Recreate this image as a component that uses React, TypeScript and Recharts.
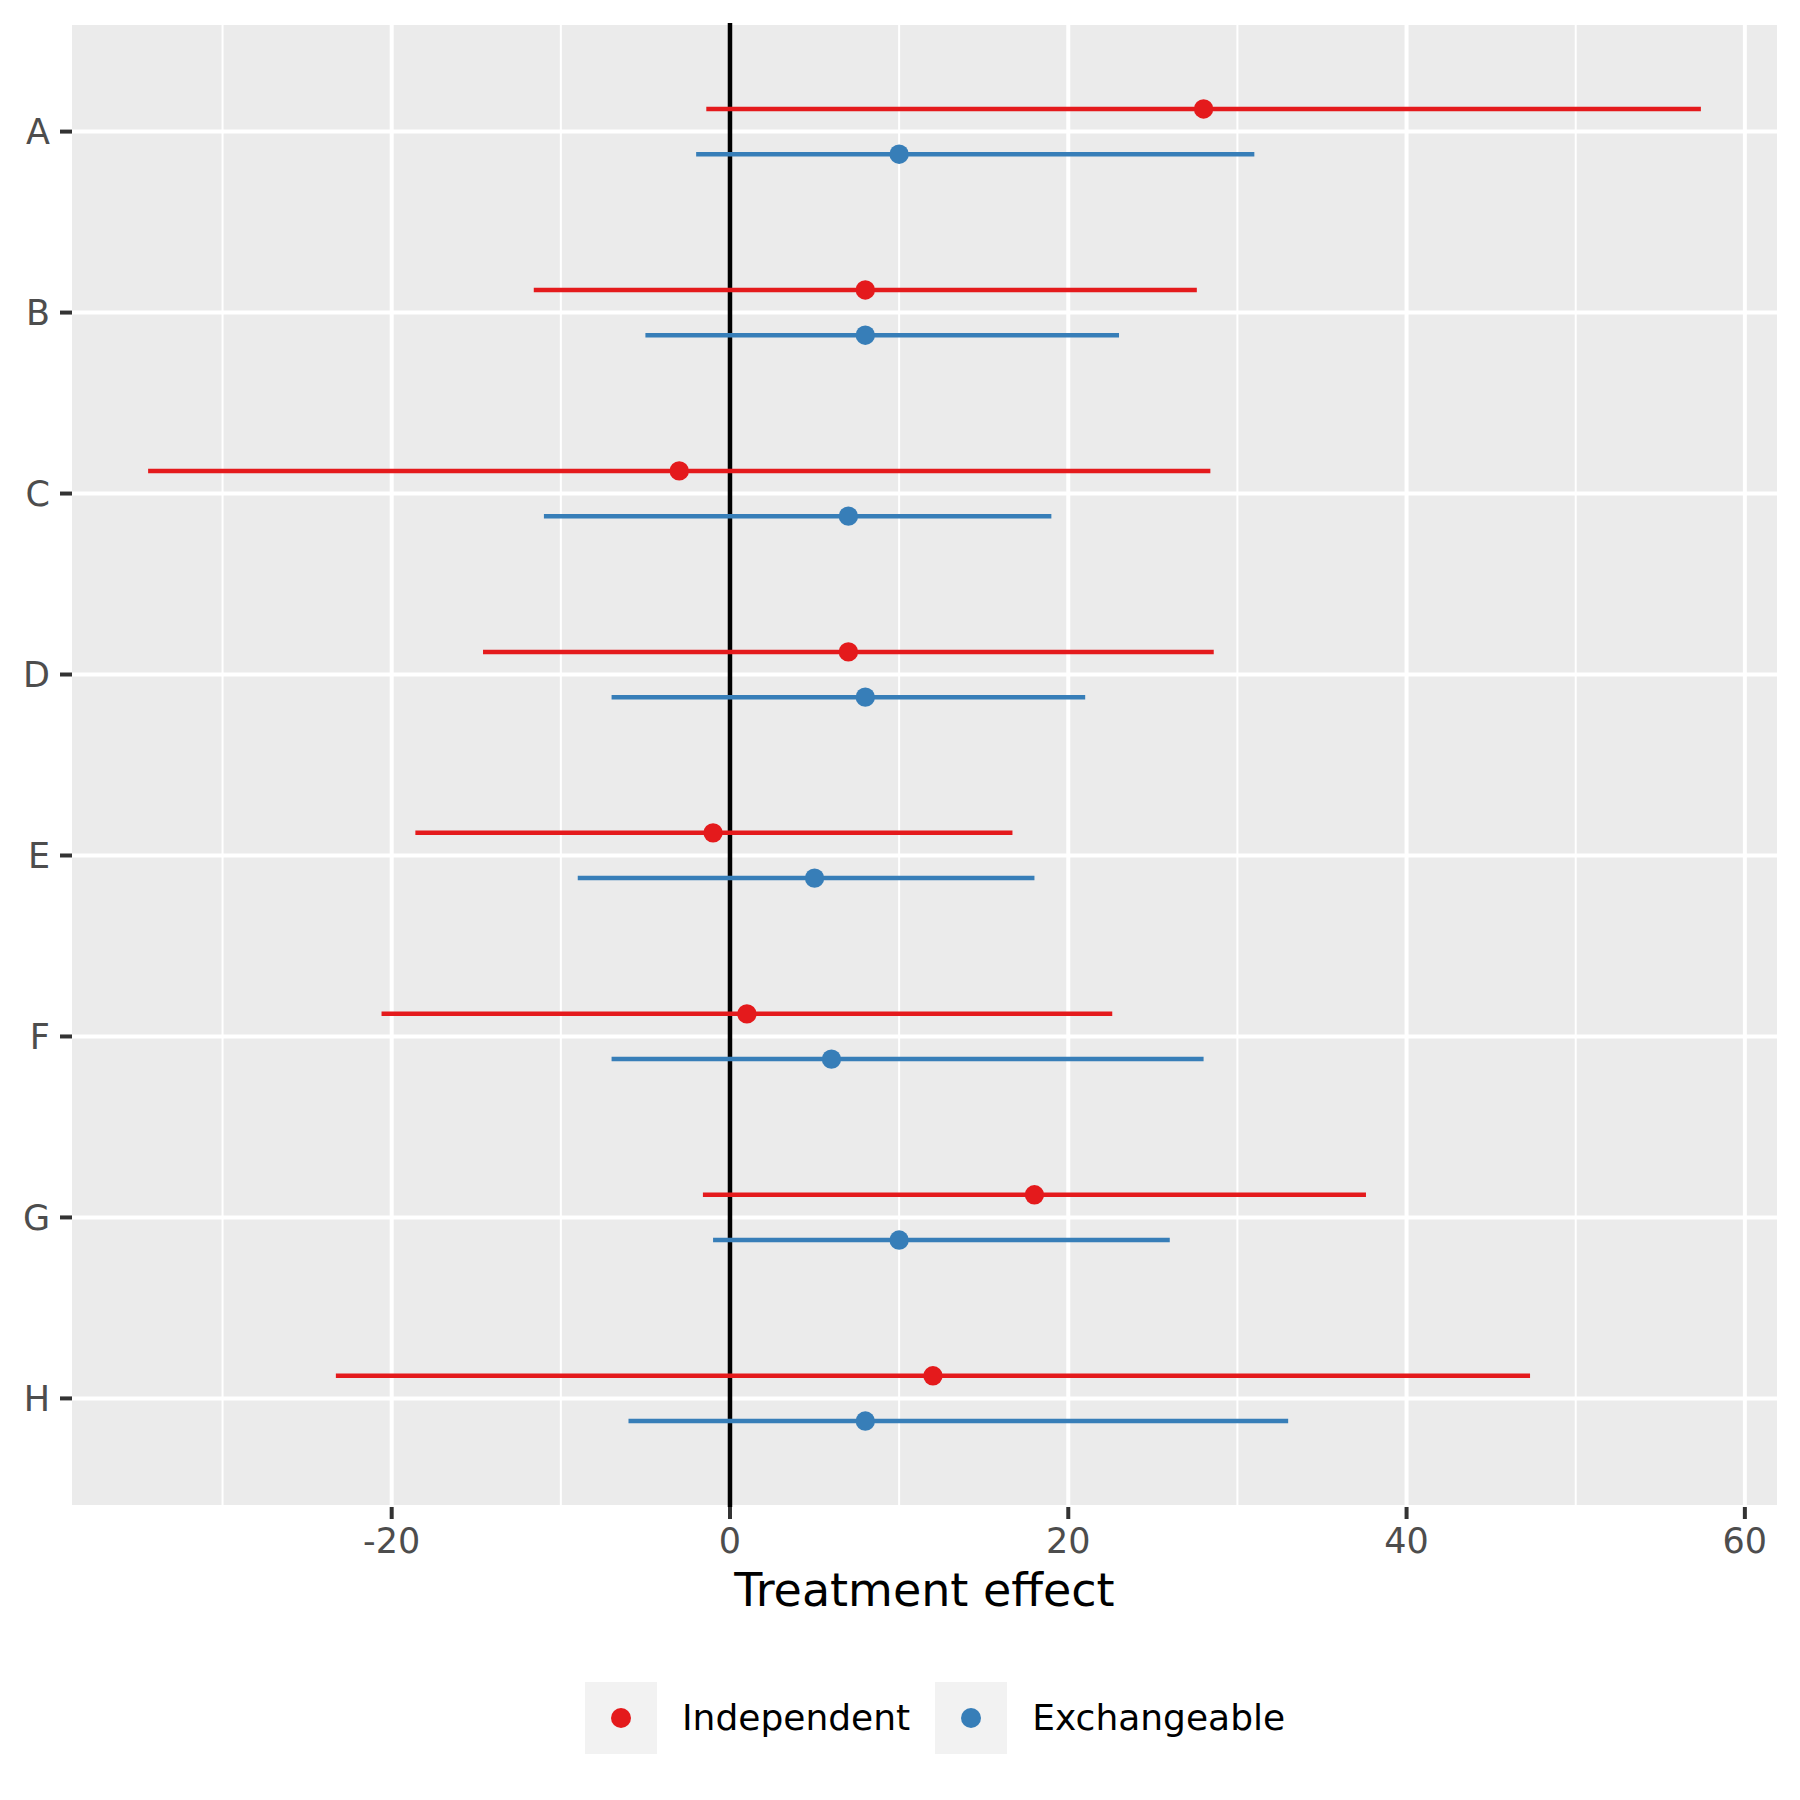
import React from 'react';
import {
  CartesianGrid,
  ErrorBar,
  ReferenceLine,
  Scatter,
  ScatterChart,
  XAxis,
  YAxis,
} from 'recharts';

const CATEGORIES = ['A', 'B', 'C', 'D', 'E', 'F', 'G', 'H'];

const IND_EST = [28, 8, -3, 7, -1, 1, 18, 12];
const IND_LO = [-1.4, -11.6, -34.4, -14.6, -18.6, -20.6, -1.6, -23.3];
const IND_HI = [57.4, 27.6, 28.4, 28.6, 16.7, 22.6, 37.6, 47.3];

const EXC_EST = [10, 8, 7, 8, 5, 6, 10, 8];
const EXC_LO = [-2, -5, -11, -7, -9, -7, -1, -6];
const EXC_HI = [31, 23, 19, 21, 18, 28, 26, 33];

const X_TICKS = [-20, 0, 20, 40, 60];
const X_MINOR = [-30, -10, 10, 30, 50];

const RED = '#E41A1C';
const BLUE = '#377EB8';
const FONT = 'DejaVu Sans';
const DODGE = 0.125;

const SERIES = [
  { name: 'Independent', color: RED, est: IND_EST, lo: IND_LO, hi: IND_HI, shift: -DODGE },
  { name: 'Exchangeable', color: BLUE, est: EXC_EST, lo: EXC_LO, hi: EXC_HI, shift: DODGE },
];

function rows(s: (typeof SERIES)[number]) {
  return CATEGORIES.map((c, i) => ({
    cat: c,
    y: i + s.shift,
    x: s.est[i],
    err: [s.est[i] - s.lo[i], s.hi[i] - s.est[i]],
  }));
}

const tickStyle = { fill: '#4D4D4D', fontSize: 35, fontFamily: FONT };
const tickLine = { stroke: '#333333', strokeWidth: 4 };

export default function App() {
  return (
    <div style={{ position: 'absolute', left: 0, top: 0, width: 1800, height: 1800, background: '#fff', fontFamily: FONT }}>
      <ScatterChart width={1800} height={1800} margin={{ top: 23, right: 23, left: 0, bottom: 183 }}>
        <CartesianGrid
          fill="#EBEBEB"
          stroke="#FFFFFF"
          strokeWidth={2}
          horizontal={false}
          verticalValues={X_MINOR}
        />
        <CartesianGrid stroke="#FFFFFF" strokeWidth={4} verticalValues={X_TICKS} />
        <XAxis
          type="number"
          dataKey="x"
          domain={[-38.9, 61.9]}
          allowDataOverflow
          ticks={X_TICKS}
          height={110}
          axisLine={false}
          tickSize={12}
          tickMargin={9}
          tick={tickStyle}
          tickLine={tickLine}
          label={{
            value: 'Treatment effect',
            position: 'insideBottom',
            offset: 11,
            fill: '#000000',
            fontSize: 46,
            fontFamily: FONT,
          }}
        />
        <YAxis
          type="number"
          dataKey="y"
          domain={[-0.6, CATEGORIES.length - 0.4]}
          reversed
          allowDataOverflow
          ticks={CATEGORIES.map((_, i) => i)}
          tickFormatter={(v: number) => CATEGORIES[v] ?? ''}
          width={72}
          axisLine={false}
          tickSize={12}
          tickMargin={10}
          tick={tickStyle}
          tickLine={tickLine}
        />
        <ReferenceLine x={0} stroke="#000000" strokeWidth={4.5} />
        {SERIES.map((s) => (
          <Scatter
            key={s.name}
            name={s.name}
            data={rows(s)}
            fill={s.color}
            isAnimationActive={false}
            shape={(p: any) => <circle cx={p.cx} cy={p.cy} r={9.7} fill={s.color} />}
          >
            <ErrorBar dataKey="err" direction="x" width={0} stroke={s.color} strokeWidth={4.5} />
          </Scatter>
        ))}
      </ScatterChart>

      <div style={{ position: 'absolute', left: 585, top: 1682, display: 'flex', alignItems: 'center', height: 72 }}>
        {SERIES.map((s) => (
          <div key={s.name} style={{ display: 'flex', alignItems: 'center', marginRight: 25 }}>
            <div
              style={{
                width: 72,
                height: 72,
                background: '#F2F2F2',
                display: 'flex',
                alignItems: 'center',
                justifyContent: 'center',
              }}
            >
              <div style={{ width: 20, height: 20, borderRadius: 10, background: s.color }} />
            </div>
            <span style={{ marginLeft: 25, fontSize: 36, color: '#000', lineHeight: '72px' }}>{s.name}</span>
          </div>
        ))}
      </div>
    </div>
  );
}
